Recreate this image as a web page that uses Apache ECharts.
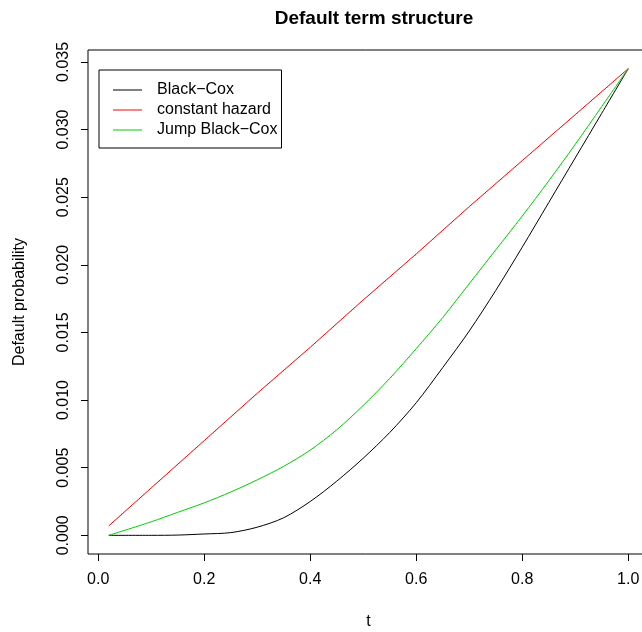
<!DOCTYPE html>
<html>
<head>
    <meta charset="utf-8" />
    <title>Default term structure</title>
    <script type="text/javascript" src="https://cdn.jsdelivr.net/npm/echarts@6.0.0/dist/echarts.min.js"></script>
</head>
<body style="margin: 0">
    <div id="container" style="width: 642px; height: 632px"></div>
</body>
</html>
<script type="text/javascript">
    // values
    var tGrid = [0.02, 0.1, 0.15, 0.2, 0.25, 0.3, 0.35, 0.4, 0.45, 0.5, 0.55, 0.6, 0.65, 0.7, 0.75, 0.8, 0.85, 0.9, 0.95, 1.0];
    var blackCox = [0, 0, 0.00002, 0.0001, 0.0002, 0.0006, 0.0013, 0.0025, 0.0040, 0.0057, 0.0076, 0.0098, 0.0124, 0.0151, 0.0181, 0.0213, 0.0246, 0.0279, 0.0312, 0.0345];
    var jumpBlackCox = [0, 0.0010, 0.0017, 0.0024, 0.0032, 0.0041, 0.0051, 0.0063, 0.0078, 0.0096, 0.0116, 0.0138, 0.0161, 0.0186, 0.0211, 0.0236, 0.0262, 0.0289, 0.0317, 0.0345];
    var tHazard = [0.02, 0.1, 0.2, 0.3, 0.4, 0.5, 0.6, 0.7, 0.8, 0.9, 1.0];
    var constHazard = [0.0007, 0.0035, 0.0070, 0.0105, 0.0139, 0.0174, 0.0208, 0.0243, 0.0277, 0.0311, 0.0345];

    var xTicks = [0, 0.2, 0.4, 0.6, 0.8, 1.0];
    var yTicks = [0, 0.005, 0.010, 0.015, 0.020, 0.025, 0.030, 0.035];

    function pairs(xs, ys) {
        return xs.map(function (x, i) { return [x, ys[i]]; });
    }

    var font = 'Liberation Sans, Arial, Helvetica, sans-serif';
    var myChart = echarts.init(document.getElementById('container'));

    var option = {
        animation: false,
        backgroundColor: '#fff',
        title: {
            text: 'Default term structure',
            left: 369,
            textAlign: 'center',
            top: 4,
            textStyle: { fontFamily: font, fontSize: 19, fontWeight: 'bold', color: '#000' }
        },
        legend: {
            orient: 'vertical',
            left: 99,
            top: 70,
            padding: [12, 4, 10, 14],
            itemGap: 4,
            itemWidth: 29,
            itemHeight: 1,
            icon: 'rect',
            borderColor: '#000',
            borderWidth: 1,
            textStyle: { fontFamily: font, fontSize: 16, color: '#000', padding: [0, 0, 0, 10] },
            data: ['Black−Cox', 'constant hazard', 'Jump Black−Cox']
        },
        grid: {
            left: 88,
            top: 50,
            width: 561,
            height: 504,
            show: true,
            borderColor: '#000',
            borderWidth: 1,
            outerBoundsMode: 'none'
        },
        xAxis: {
            type: 'value',
            min: -0.0192,
            max: 1.0392,
            name: 't',
            nameLocation: 'middle',
            nameGap: 60,
            nameTextStyle: { fontFamily: font, fontSize: 16, color: '#000' },
            axisLine: { show: false, onZero: false },
            splitLine: { show: false },
            axisTick: { show: true, length: 7, customValues: xTicks, lineStyle: { color: '#000', width: 1 } },
            axisLabel: {
                customValues: xTicks,
                formatter: function (v) { return v.toFixed(1); },
                fontFamily: font, fontSize: 16, color: '#000', margin: 18
            }
        },
        yAxis: {
            type: 'value',
            min: -0.00138,
            max: 0.03588,
            name: 'Default probability',
            nameLocation: 'middle',
            nameGap: 60,
            nameTextStyle: { fontFamily: font, fontSize: 16, color: '#000' },
            axisLine: { show: false, onZero: false },
            splitLine: { show: false },
            axisTick: { show: true, length: 7, customValues: yTicks, lineStyle: { color: '#000', width: 1 } },
            axisLabel: {
                customValues: yTicks,
                rotate: 90,
                formatter: function (v) { return v.toFixed(3); },
                fontFamily: font, fontSize: 16, color: '#000', margin: 16
            }
        },
        series: [
            {
                name: 'Black−Cox', type: 'line', symbol: 'none',
                smooth: 0.3,
                data: pairs(tGrid, blackCox),
                lineStyle: { color: '#000', width: 1 }, itemStyle: { color: '#000' }
            },
            {
                name: 'constant hazard', type: 'line', symbol: 'none',
                data: pairs(tHazard, constHazard),
                lineStyle: { color: '#ff0000', width: 1 }, itemStyle: { color: '#ff0000' }
            },
            {
                name: 'Jump Black−Cox', type: 'line', symbol: 'none',
                smooth: 0.3,
                data: pairs(tGrid, jumpBlackCox),
                lineStyle: { color: '#00cd00', width: 1 }, itemStyle: { color: '#00cd00' }
            }
        ]
    };
    myChart.setOption(option);
</script>
